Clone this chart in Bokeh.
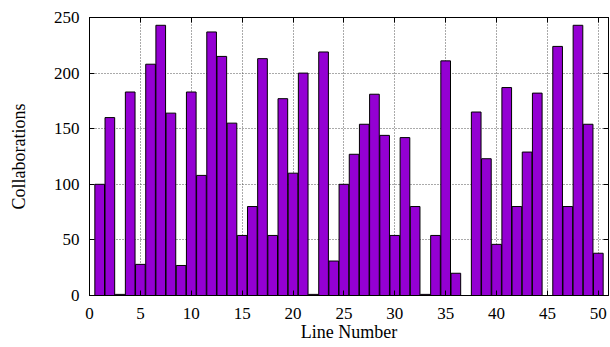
from bokeh.plotting import figure
from bokeh.models import LinearAxis, FixedTicker, Range1d
from bokeh.embed import file_html
from bokeh.resources import INLINE

lines = list(range(1, 51))
collabs = [100, 160, 1, 183, 28, 208, 243, 164, 27, 183,
           108, 237, 215, 155, 54, 80, 213, 54, 177, 110,
           200, 1, 219, 31, 100, 127, 154, 181, 144, 54,
           142, 80, 1, 54, 211, 20, 0, 165, 123, 46,
           187, 80, 129, 182, 0, 224, 80, 243, 154, 38]
x_ticks = [0, 5, 10, 15, 20, 25, 30, 35, 40, 45, 50]
y_ticks = [0, 50, 100, 150, 200, 250]
x_title = "Line Number"
y_title = "Collaborations"

FONT = "Liberation Serif"

p = figure(width=610, height=347, output_backend="svg", toolbar_location=None,
           x_range=Range1d(0, 51), y_range=Range1d(0, 250),
           min_border_left=89, min_border_right=2, min_border_top=17, min_border_bottom=52)
p.outline_line_color = "black"
p.outline_line_width = 1

p.vbar(x=lines, top=collabs, width=0.95, fill_color="#9400D3", line_color="black", line_width=1)

xa = p.xaxis
ya = p.yaxis
for axs in (xa, ya):
    axs.major_tick_in = 5
    axs.major_tick_out = 0
    axs.minor_tick_in = 0
    axs.minor_tick_out = 0
    axs.axis_line_color = "black"
    axs.major_label_text_font = FONT
    axs.major_label_text_font_size = "17px"
    axs.major_label_text_color = "black"
    axs.axis_label_text_font = FONT
    axs.axis_label_text_font_size = "18px"
    axs.axis_label_text_font_style = "normal"
    axs.axis_label_text_color = "black"

xa.ticker = FixedTicker(ticks=x_ticks)
ya.ticker = FixedTicker(ticks=y_ticks)
xa.axis_label = x_title
ya.axis_label = y_title
xa.major_label_standoff = 12
ya.major_label_standoff = 10
xa.axis_label_standoff = 0
ya.axis_label_standoff = 22

for side, tk in (("right", y_ticks), ("above", x_ticks)):
    extra = LinearAxis(ticker=FixedTicker(ticks=tk), major_label_text_font_size="0px",
                       major_tick_in=5, major_tick_out=0, minor_tick_in=0, minor_tick_out=0,
                       axis_line_color="black")
    extra.major_label_text_alpha = 0
    p.add_layout(extra, side)

p.xgrid.ticker = FixedTicker(ticks=x_ticks)
p.ygrid.ticker = FixedTicker(ticks=y_ticks)
for g in (p.xgrid[0], p.ygrid[0]):
    g.grid_line_color = "#555555"
    g.grid_line_dash = "1 2"
    g.grid_line_width = 1

open("out.html", "w").write(file_html(p, INLINE))
